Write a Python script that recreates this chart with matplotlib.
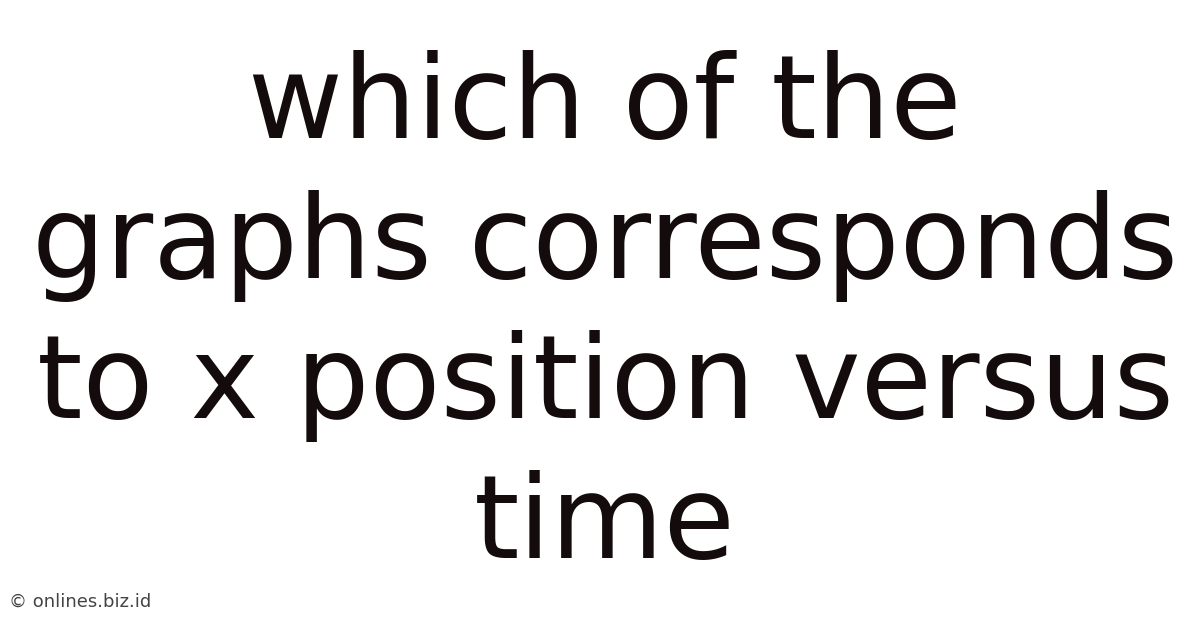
import matplotlib.pyplot as plt

title_lines = ['which of the', 'graphs corresponds', 'to x position versus', 'time']
baselines_px = [138, 278, 418, 558]
watermark = '\u00a9 onlines.biz.id'

W, H = 1200, 628
fig = plt.figure(figsize=(W / 100, H / 100), dpi=100)
fig.patch.set_facecolor('white')

for line, b in zip(title_lines, baselines_px):
    fig.text(605 / W, 1 - b / H, line, ha='center', va='baseline',
             fontsize=83.5, color='#140c0c', family='DejaVu Sans')

fig.text(9 / W, 1 - 607 / H, watermark, ha='left', va='baseline',
         fontsize=13, color='#444444', family='DejaVu Sans')

fig.savefig('out.png', dpi=100)
